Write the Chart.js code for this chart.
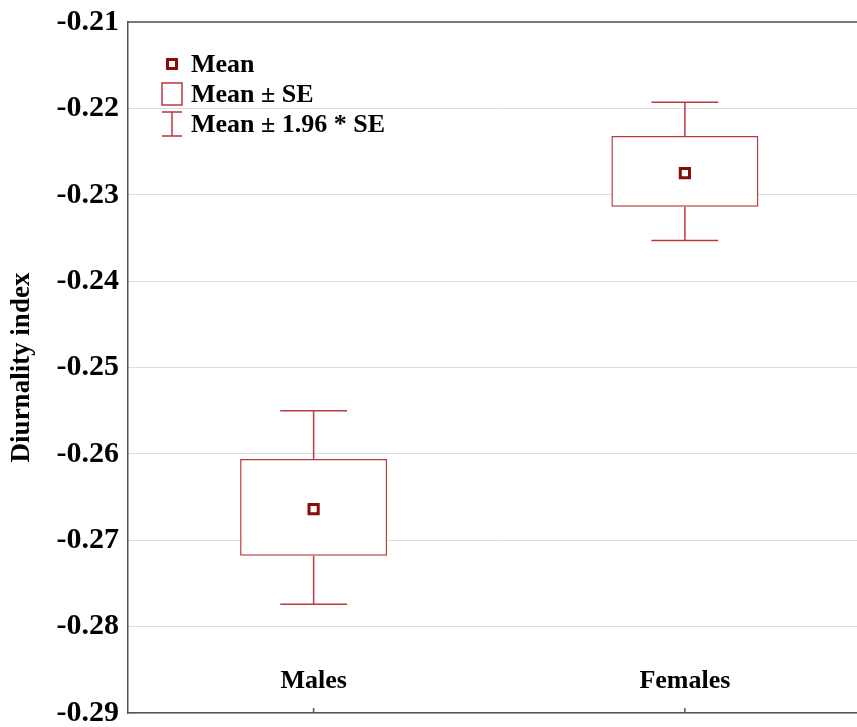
<!DOCTYPE html>
<html>
<head>
<meta charset="utf-8">
<script src="https://cdn.jsdelivr.net/npm/chart.js@4.4.1/dist/chart.umd.min.js"></script>
<style>
  html, body { margin: 0; padding: 0; background: #fff; overflow: hidden; }
  #wrap { width: 857px; height: 727px; overflow: hidden; }
</style>
</head>
<body>
<div id="wrap"><canvas id="chart" width="880" height="727"></canvas></div>
<script>
// --- Data ---
const groups = ['Males', 'Females'];
const means = [-0.2664, -0.2275];
const seLow = [-0.2718, -0.2314];
const seHigh = [-0.2606, -0.2232];
const ciLow = [-0.2774, -0.2353];
const ciHigh = [-0.2550, -0.2193];
const yTicks = [-0.21, -0.22, -0.23, -0.24, -0.25, -0.26, -0.27, -0.28, -0.29];
const legendLabels = ['Mean', 'Mean \u00b1 SE', 'Mean \u00b1 1.96 * SE'];

const boxColor = '#b8393f';
const meanColor = '#8b0a0a';
const axisColor = '#555555';
const serif = '"Liberation Serif", "Times New Roman", serif';

// whiskers (mean ± 1.96*SE) drawn from the box edges out to the CI ends
const whiskerPlugin = {
    id: 'whiskers',
    beforeDatasetsDraw(chart) {
        const { ctx, scales: { x, y } } = chart;
        const catWidth = x.getPixelForValue(1) - x.getPixelForValue(0);
        const capHalf = catWidth * 0.09;
        ctx.save();
        ctx.strokeStyle = boxColor;
        ctx.lineWidth = 1.5;
        groups.forEach((g, i) => {
            const cx = x.getPixelForValue(i);
            const top = y.getPixelForValue(ciHigh[i]);
            const bot = y.getPixelForValue(ciLow[i]);
            ctx.beginPath();
            ctx.moveTo(cx, top); ctx.lineTo(cx, y.getPixelForValue(seHigh[i]));
            ctx.moveTo(cx, bot); ctx.lineTo(cx, y.getPixelForValue(seLow[i]));
            ctx.moveTo(cx - capHalf, top); ctx.lineTo(cx + capHalf, top);
            ctx.moveTo(cx - capHalf, bot); ctx.lineTo(cx + capHalf, bot);
            ctx.stroke();
        });
        ctx.restore();
    }
};

// frame top line, inner x ticks, category names and the legend box
const decorPlugin = {
    id: 'decor',
    afterDraw(chart) {
        const { ctx, chartArea, scales: { x } } = chart;
        ctx.save();
        // top frame line
        ctx.strokeStyle = axisColor;
        ctx.lineWidth = 1.5;
        ctx.beginPath();
        ctx.moveTo(chartArea.left, chartArea.top);
        ctx.lineTo(chartArea.right, chartArea.top);
        ctx.stroke();

        // x ticks pointing into the plot + category labels
        ctx.fillStyle = '#000';
        ctx.font = 'bold 26px ' + serif;
        ctx.textAlign = 'center';
        ctx.textBaseline = 'middle';
        groups.forEach((g, i) => {
            const cx = x.getPixelForValue(i);
            ctx.beginPath();
            ctx.moveTo(cx, chartArea.bottom);
            ctx.lineTo(cx, chartArea.bottom - 5);
            ctx.stroke();
            ctx.fillText(g, cx, chartArea.bottom - 32);
        });

        // legend
        const lx = chartArea.left + 44;
        const tx = chartArea.left + 63;
        const rows = [chartArea.top + 42, chartArea.top + 72, chartArea.top + 102];
        ctx.textAlign = 'left';
        ctx.font = 'bold 26px ' + serif;

        // Mean marker
        ctx.strokeStyle = meanColor;
        ctx.lineWidth = 3;
        ctx.strokeRect(lx - 4.5, rows[0] - 4.5, 9, 9);
        // SE box
        ctx.strokeStyle = boxColor;
        ctx.lineWidth = 1.5;
        ctx.strokeRect(lx - 10, rows[1] - 11, 20, 22);
        // CI whisker
        ctx.beginPath();
        ctx.moveTo(lx - 10, rows[2] - 12); ctx.lineTo(lx + 10, rows[2] - 12);
        ctx.moveTo(lx, rows[2] - 12); ctx.lineTo(lx, rows[2] + 12);
        ctx.moveTo(lx - 10, rows[2] + 12); ctx.lineTo(lx + 10, rows[2] + 12);
        ctx.stroke();

        ctx.fillStyle = '#000';
        legendLabels.forEach((t, i) => ctx.fillText(t, tx, rows[i] + 1));
        ctx.restore();
    }
};

const ctx = document.getElementById('chart').getContext('2d');
const chart = new Chart(ctx, {
    data: {
        labels: groups,
        datasets: [
            {
                type: 'bar',
                label: legendLabels[1],
                data: groups.map((g, i) => [seLow[i], seHigh[i]]),
                backgroundColor: '#ffffff',
                borderColor: boxColor,
                borderWidth: 1.5,
                borderSkipped: false,
                barPercentage: 0.396,
                categoryPercentage: 1,
                order: 1
            },
            {
                type: 'line',
                label: legendLabels[0],
                data: means,
                showLine: false,
                pointStyle: 'rect',
                pointRadius: 6.5,
                pointBorderWidth: 3,
                pointBorderColor: meanColor,
                pointBackgroundColor: '#ffffff',
                order: 0
            }
        ]
    },
    options: {
        responsive: false,
        animation: false,
        layout: { padding: { top: 22, right: 0, left: 0, bottom: 0 } },
        plugins: {
            legend: { display: false },
            tooltip: { enabled: false }
        },
        scales: {
            x: {
                type: 'category',
                offset: true,
                grid: { display: false },
                border: { display: true, color: axisColor, width: 1.5 },
                ticks: { display: false },
                afterFit(scale) {
                    scale.height = 14;
                    scale.paddingLeft = 0;
                    scale.paddingRight = 0;
                }
            },
            y: {
                min: yTicks[yTicks.length - 1],
                max: yTicks[0],
                afterBuildTicks(scale) {
                    scale.ticks = yTicks.map(v => ({ value: v }));
                },
                grid: { color: '#dddddd', lineWidth: 1, drawTicks: false },
                border: { display: true, color: axisColor, width: 1.5 },
                ticks: {
                    padding: 9,
                    color: '#000',
                    font: { family: serif, size: 30, weight: 'bold' },
                    callback: v => v.toFixed(2)
                },
                title: {
                    display: true,
                    text: 'Diurnality index',
                    color: '#000',
                    padding: { top: 6, bottom: 0 },
                    font: { family: serif, size: 27, weight: 'bold' }
                },
                afterFit(scale) {
                    scale.width = 128;
                    scale.paddingTop = 0;
                    scale.paddingBottom = 0;
                }
            }
        }
    },
    plugins: [whiskerPlugin, decorPlugin]
});
</script>
</body>
</html>
